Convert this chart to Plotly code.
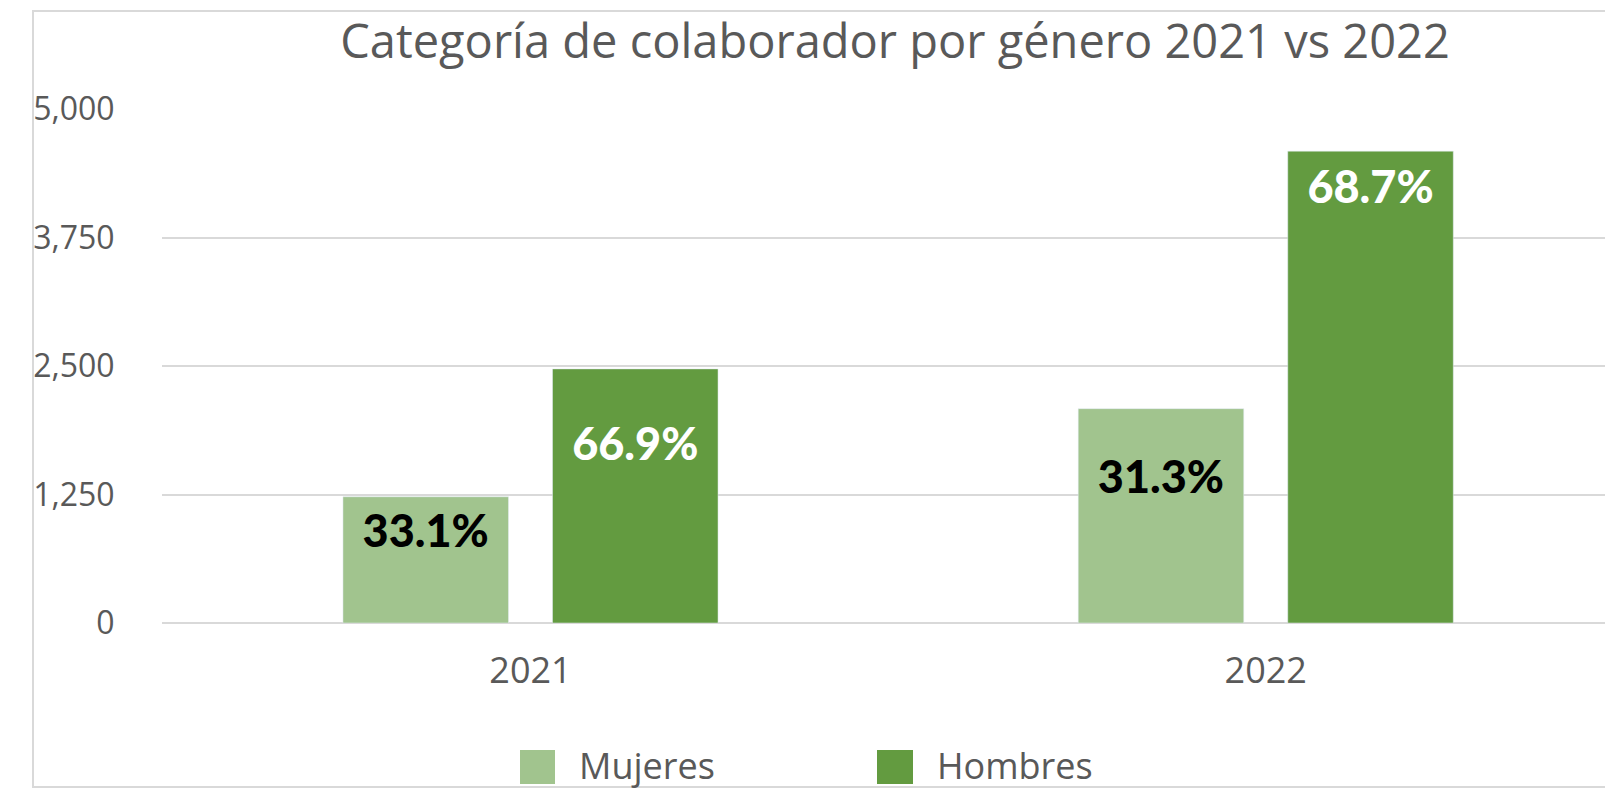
import plotly.graph_objects as go

# ---------------- data ----------------
years = ["2021", "2022"]
series_names = ["Mujeres", "Hombres"]
mujeres = [1228, 2085]
hombres = [2472, 4590]
mujeres_pct = ["33.1%", "31.3%"]
hombres_pct = ["66.9%", "68.7%"]
y_tickvals = [0, 1250, 2500, 3750, 5000]
y_ticktext = ["0", "1,250", "2,500", "3,750", "5,000"]
title_text = "Categoría de colaborador por género 2021 vs 2022"

# ---------------- style ----------------
OFF = 8  # default page body margin of the html page
W, H = 1613 - OFF, 791 - OFF
L, R, T, B = 162 - OFF, 0, 109 - OFF, 168
PW, PH = W - L - R, H - T - B

def px2x(px):  # page pixel -> paper x
    return (px - OFF - L) / PW

def py2y(py):  # page pixel -> paper y
    return (H - B - (py - OFF)) / PH

c_light = "#A1C48E"
c_dark = "#639B40"
txt_gray = "#595959"
grid_c = "#D9D9D9"
base_font = "Open Sans, Noto Sans, DejaVu Sans, sans-serif"
label_font = "Lato, Roboto, sans-serif"

# fraction of bar height where the label sits (as in the reference)
mujeres_lab_frac = [0.69, 0.66]
hombres_lab_frac = [0.686, 0.914]

fig = go.Figure()
fig.add_trace(go.Bar(x=years, y=mujeres, name=series_names[0], marker_color=c_light,
                     offsetgroup="m", showlegend=False, hoverinfo="x+y"))
fig.add_trace(go.Bar(x=years, y=hombres, name=series_names[1], marker_color=c_dark,
                     offsetgroup="h", showlegend=False, hoverinfo="x+y"))

fig.add_trace(go.Scatter(x=years, y=[v * f for v, f in zip(mujeres, mujeres_lab_frac)],
                         mode="text", text=mujeres_pct, offsetgroup="m", showlegend=False,
                         textposition="middle center", hoverinfo="skip",
                         textfont=dict(family=label_font, size=45, color="#000000", weight=900)))
fig.add_trace(go.Scatter(x=years, y=[v * f for v, f in zip(hombres, hombres_lab_frac)],
                         mode="text", text=hombres_pct, offsetgroup="h", showlegend=False,
                         textposition="middle center", hoverinfo="skip",
                         textfont=dict(family=label_font, size=45, color="#FFFFFF", weight=900)))

cat_unit = 735.25
x_start = -0.5 + (528.75 - OFF - L - cat_unit / 2) / cat_unit
x_end = x_start + PW / cat_unit

fig.update_layout(
    width=W, height=H,
    margin=dict(l=L, r=R, t=T, b=B, pad=0, autoexpand=False),
    paper_bgcolor="#FFFFFF", plot_bgcolor="#FFFFFF",
    barmode="group", bargap=0.43, bargroupgap=0.21,
    scattermode="group", scattergap=0.43,
    showlegend=False,
    title=dict(text=title_text, x=(895 - OFF) / W, xanchor="center", xref="container",
               y=1 - (42 - OFF) / H, yanchor="middle", yref="container",
               font=dict(family=base_font, size=47, color=txt_gray)),
    xaxis=dict(type="category", range=[x_start, x_end], showgrid=False, automargin=False,
               showline=False, zeroline=False, ticks="outside", ticklen=16,
               tickcolor="rgba(0,0,0,0)",
               tickfont=dict(family=base_font, size=36, color=txt_gray)),
    yaxis=dict(range=[0, 5000], tickvals=y_tickvals, ticktext=y_ticktext, automargin=False,
               showgrid=True, gridcolor=grid_c, gridwidth=2,
               zeroline=True, zerolinecolor=grid_c, zerolinewidth=2,
               showline=False, ticks="outside", ticklen=40, tickcolor="rgba(0,0,0,0)",
               tickfont=dict(family=base_font, size=32, color=txt_gray)),
)

# chart frame
fig.add_shape(type="rect", xref="paper", yref="paper",
              x0=px2x(33), x1=px2x(1613 + 20), y0=py2y(787), y1=py2y(11),
              line=dict(color=grid_c, width=2), fillcolor="rgba(0,0,0,0)", layer="below")

# custom legend (large swatches)
legend_items = [(series_names[0], c_light, 520, 555, 577),
                (series_names[1], c_dark, 877, 913, 935)]
for name, col, sx0, sx1, tx in legend_items:
    fig.add_shape(type="rect", xref="paper", yref="paper",
                  x0=px2x(sx0), x1=px2x(sx1), y0=py2y(784), y1=py2y(750),
                  line=dict(width=0), fillcolor=col)
    fig.add_annotation(text=name, xref="paper", yref="paper", x=px2x(tx), y=py2y(765),
                       xanchor="left", yanchor="middle", showarrow=False,
                       font=dict(family=base_font, size=36, color=txt_gray))

fig.write_html("out.html")
